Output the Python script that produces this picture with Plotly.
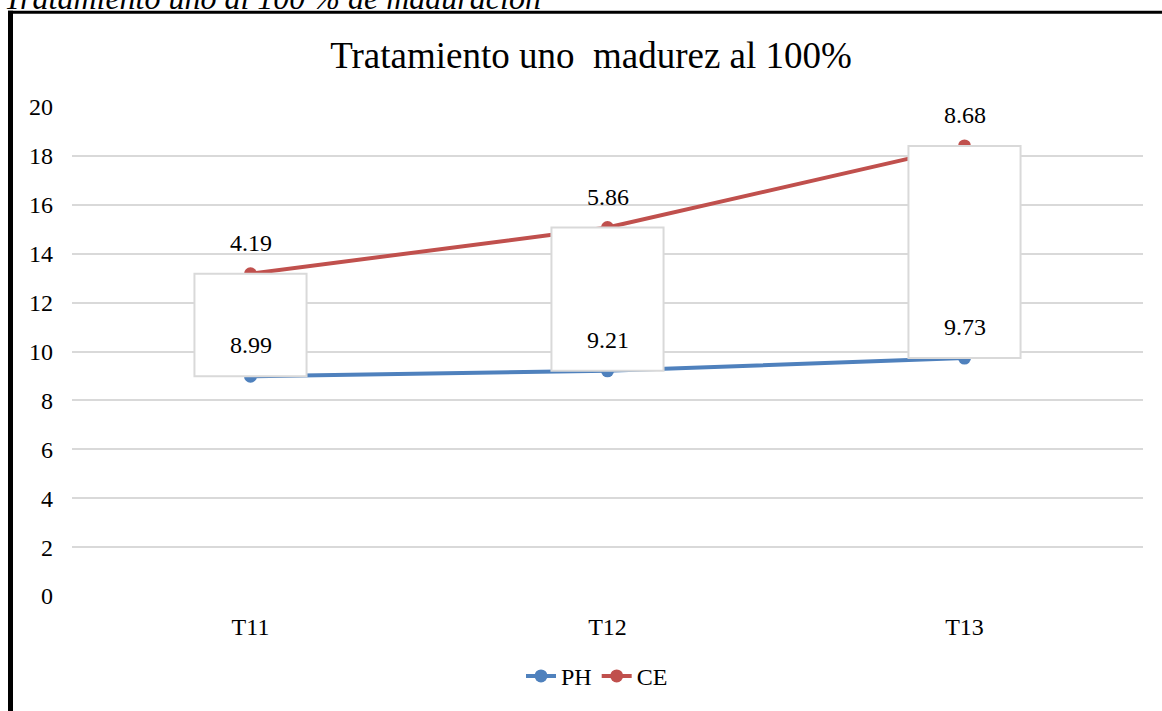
import plotly.graph_objects as go

categories = ["T11", "T12", "T13"]
ph = [8.99, 9.21, 9.73]
ce = [4.19, 5.86, 8.68]
y_ticks = [0, 2, 4, 6, 8, 10, 12, 14, 16, 18, 20]

title_text = "Tratamiento uno  madurez al 100%"
caption_text = "Tratamiento uno al 100 % de maduración"

BLUE = "#4F81BD"
RED = "#C0504D"
GRID = "#D9D9D9"
FONT = "Liberation Serif"

ce_top = [p + c for p, c in zip(ph, ce)]

fig = go.Figure()
fig.add_trace(go.Scatter(
    x=categories, y=ph, name="PH", mode="lines+markers",
    line=dict(color=BLUE, width=4), marker=dict(color=BLUE, size=13),
))
fig.add_trace(go.Scatter(
    x=categories, y=ce_top, name="CE", mode="lines+markers",
    line=dict(color=RED, width=4), marker=dict(color=RED, size=13),
))

# up/down bars (white boxes) drawn above lines
half = 0.157
for i, (lo, hi) in enumerate(zip(ph, ce_top)):
    fig.add_shape(type="rect", xref="x", yref="y",
                  x0=i - half, x1=i + half, y0=lo, y1=hi,
                  fillcolor="white", line=dict(color=GRID, width=2),
                  layer="above")

# data labels
for i, cat in enumerate(categories):
    fig.add_annotation(x=cat, y=ce_top[i], text=f"{ce[i]:.2f}", showarrow=False,
                       yshift=31, font=dict(family=FONT, size=24, color="black"))
    fig.add_annotation(x=cat, y=ph[i], text=f"{ph[i]:.2f}", showarrow=False,
                       yshift=31, font=dict(family=FONT, size=24, color="black"))

# cropped caption above the chart frame
fig.add_annotation(xref="paper", yref="paper", x=(2 - 72) / 1071, y=(600 + 3) / 493,
                   xanchor="left", yanchor="middle", text="<i>" + caption_text + "</i>",
                   showarrow=False, font=dict(family=FONT, size=32, color="black"))

# frame border (top and left)
fig.add_shape(type="line", xref="paper", yref="paper",
              x0=(8 - 72) / 1071, x1=(1165 - 72) / 1071,
              y0=(600 - 11.5) / 493, y1=(600 - 11.5) / 493,
              line=dict(color="black", width=3))
fig.add_shape(type="line", xref="paper", yref="paper",
              x0=(10.5 - 72) / 1071, x1=(10.5 - 72) / 1071,
              y0=(600 - 10) / 493, y1=(600 - 720) / 493,
              line=dict(color="black", width=5))

fig.update_layout(
    width=1162, height=711,
    margin=dict(l=72, r=19, t=107, b=111),
    paper_bgcolor="white", plot_bgcolor="white",
    font=dict(family=FONT, size=24, color="black"),
    title=dict(text=title_text, x=591 / 1162, xanchor="center", y=1 - 55 / 711, yanchor="middle",
               font=dict(family=FONT, size=37, color="black")),
    showlegend=True,
    legend=dict(orientation="h", x=(597 - 72) / 1071, xanchor="center",
                y=(600 - 681) / 493, yanchor="middle",
                font=dict(family=FONT, size=24, color="black"),
                bgcolor="rgba(0,0,0,0)"),
    xaxis=dict(type="category", range=[-0.5, 2.5], showgrid=False, showline=False,
               zeroline=False, ticks="", ticklabelstandoff=14,
               tickfont=dict(family=FONT, size=24, color="black")),
    yaxis=dict(range=[0, 20], tickvals=y_ticks, showgrid=True, gridcolor=GRID, gridwidth=2,
               zeroline=False, showline=False, ticks="", ticklabelstandoff=18,
               tickfont=dict(family=FONT, size=24, color="black")),
)

fig.write_html("out.html", config={"displayModeBar": False},
               post_script="document.body.style.margin='0';document.body.style.overflow='hidden';")
